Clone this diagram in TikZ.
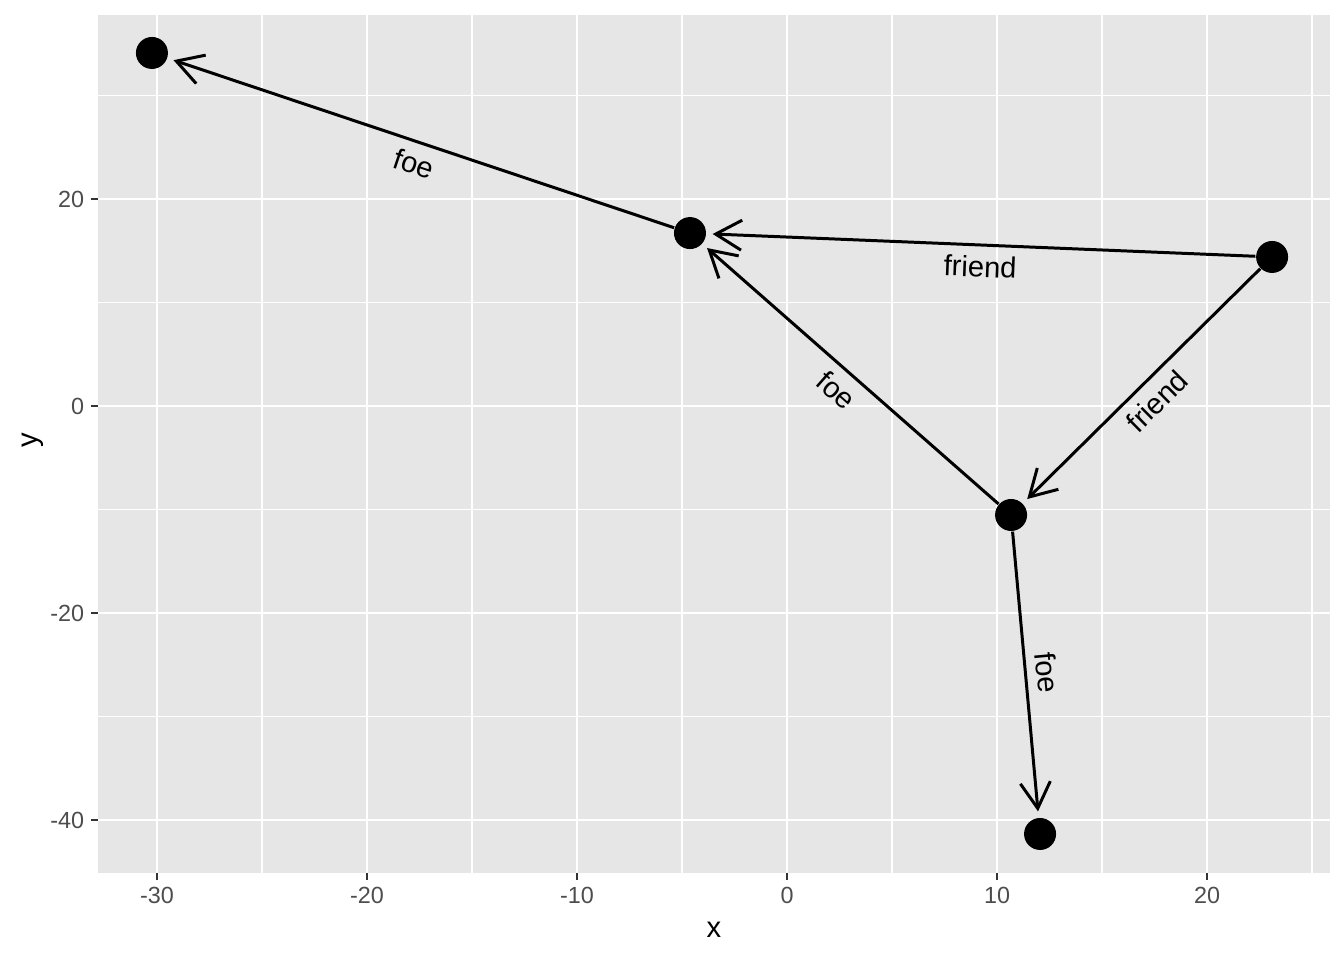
\documentclass[tikz,border=0pt]{standalone}
\usepackage{fontspec}
\setmainfont{Liberation Sans}
\usetikzlibrary{arrows.meta}
\definecolor{panelgrey}{HTML}{E6E6E6}
\definecolor{ticktext}{HTML}{4D4D4D}
\definecolor{tickline}{HTML}{333333}
\tikzset{
  vertex/.style={circle, fill=black, minimum size=0.32cm, inner sep=0pt},
  link/.style={-{Straight Barb[length=0.26cm, width=0.30cm]}, line width=0.85pt, shorten >=0.06cm},
  linklabel/.style={font=\fontsize{8.3}{10}\selectfont, inner sep=0pt, sloped, midway},
  ticklabel/.style={font=\fontsize{6.65}{8}\selectfont, text=ticktext, inner sep=0pt},
  tickmark/.style={tickline, line width=0.81pt},
  axistitle/.style={font=\fontsize{8.3}{10}\selectfont, inner sep=0pt},
  majorgrid/.style={white, line width=0.81pt},
  minorgrid/.style={white, line width=0.4pt}
}

\begin{document}
\begin{tikzpicture}
\useasboundingbox (0,0) rectangle (13.44,9.60);
\begin{scope}[shift={(7.87,5.54)}, x=0.21cm, y=0.1035cm]

% Panel and grid
\fill[panelgrey] (-32.81,-45.12) rectangle (25.86,37.78);
\foreach \gx in {-25,-15,...,25}
  \draw[minorgrid] (\gx,-45.12) -- (\gx,37.78);
\foreach \gy in {-30,-10,...,30}
  \draw[minorgrid] (-32.81,\gy) -- (25.86,\gy);
\foreach \gx in {-30,-20,...,20} {
  \draw[majorgrid] (\gx,-45.12) -- (\gx,37.78);
  \draw[tickmark] (\gx,-45.12) -- ++(0,-0.07cm);
  \node[ticklabel, anchor=north] (xtick\gx) at ([yshift=-0.132cm]\gx,-45.12) {\gx};
}
\foreach \gy in {-40,-20,0,20} {
  \draw[majorgrid] (-32.81,\gy) -- (25.86,\gy);
  \draw[tickmark] (-32.81,\gy) -- ++(-0.07cm,0);
  \node[ticklabel, anchor=east] (ytick\gy) at ([xshift=-0.132cm]-32.81,\gy) {\gy};
}

% Axis titles
\node[axistitle] (xtitle) at (-3.48,-50.63) {x};
\node[axistitle, rotate=90] (ytitle) at (-35.9,-3.29) {y};

% Vertices
\node[vertex] (v1) at (-30.24,34.11) {};
\node[vertex] (v2) at (-4.62,16.71) {};
\node[vertex] (v3) at (23.10,14.40) {};
\node[vertex] (v4) at (10.67,-10.53) {};
\node[vertex] (v5) at (12.05,-41.35) {};

% Edges
\draw[link] (v2) -- node[linklabel, below=2.7pt] {foe} (v1);
\draw[link] (v3) -- node[linklabel, below=2.7pt] {friend} (v2);
\draw[link] (v4) -- node[linklabel, below=2.7pt] {foe} (v2);
\draw[link] (v3) -- node[linklabel, below=2.7pt] {friend} (v4);
\draw[link] (v4) -- node[linklabel, above=2.7pt] {foe} (v5);

\end{scope}
\end{tikzpicture}
\end{document}
